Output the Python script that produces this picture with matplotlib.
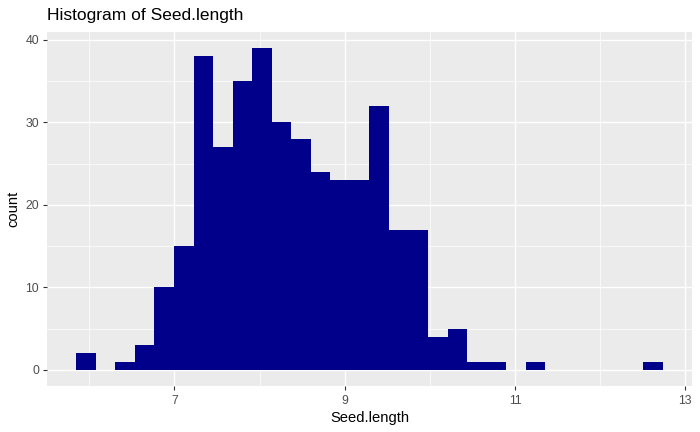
import numpy as np
import matplotlib
matplotlib.use("Agg")
import matplotlib.pyplot as plt

# histogram: 30 bins
BIN_START = 5.849
BIN_WIDTH = 0.2295
counts = [2, 0, 1, 3, 10, 15, 38, 27, 35, 39,
          30, 28, 24, 23, 23, 32, 17, 17, 4, 5,
          1, 1, 0, 1, 0, 0, 0, 0, 0, 1]
x_major = [7, 9, 11, 13]
x_minor = [6, 8, 10, 12]
y_major = [0, 10, 20, 30, 40]
y_minor = [5, 15, 25, 35]

plt.rcParams["font.family"] = ["Liberation Sans", "DejaVu Sans"]

W, H = 700, 432
fig = plt.figure(figsize=(W / 100, H / 100), dpi=100)
ax = fig.add_axes([47 / W, (H - 386) / H, (692 - 47) / W, (386 - 32) / H])

edges = BIN_START + BIN_WIDTH * np.arange(len(counts) + 1)
ax.set_facecolor("#EBEBEB")
ax.bar(edges[:-1], counts, width=BIN_WIDTH, align="edge",
       color="#00008B", linewidth=0, zorder=3)

lo, hi = edges[0], edges[-1]
pad = 0.05 * (hi - lo)
ax.set_xlim(lo - pad, hi + pad)
ymax = max(counts)
ax.set_ylim(-0.05 * ymax, ymax * 1.05)

ax.set_xticks(x_major)
ax.set_xticks(x_minor, minor=True)
ax.set_yticks(y_major)
ax.set_yticks(y_minor, minor=True)
ax.grid(which="major", color="white", linewidth=1.0, zorder=0)
ax.grid(which="minor", color="white", linewidth=0.5, zorder=0)
ax.set_axisbelow(True)
for s in ax.spines.values():
    s.set_visible(False)
ax.tick_params(which="major", length=3.2, width=0.8, color="#333333",
               labelcolor="#4D4D4D", labelsize=8.8)
ax.tick_params(axis="x", pad=3)
ax.tick_params(axis="y", pad=2.5)
ax.tick_params(which="minor", length=0)

ax.set_xlabel("Seed.length", fontsize=10.6, color="black", labelpad=3)
ax.set_ylabel("count", fontsize=10.6, color="black", labelpad=4)
fig.text(47 / W, 1 - 15.5 / H, "Histogram of Seed.length", fontsize=12.5,
         ha="left", va="center", color="black")

fig.savefig("out.png", dpi=100)
